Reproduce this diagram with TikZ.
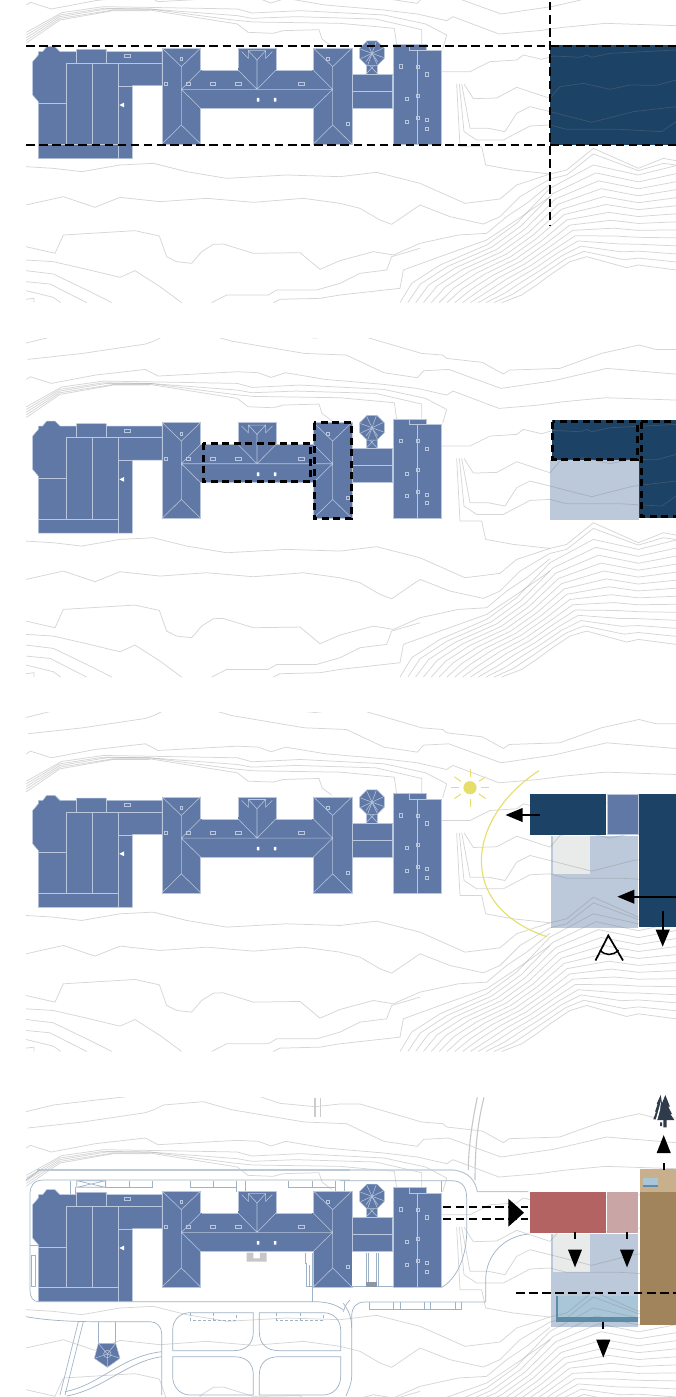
\documentclass[tikz,border=0pt]{standalone}
\usetikzlibrary{arrows.meta}
\definecolor{bblue}{HTML}{5F78A6}
\definecolor{bline}{HTML}{B9C6DC}
\definecolor{navy}{HTML}{1C4266}
\definecolor{pale}{HTML}{BCC9DA}
\definecolor{chalk}{HTML}{E9EBEB}
\definecolor{brick}{HTML}{B36362}
\definecolor{rose}{HTML}{C9A5A5}
\definecolor{earth}{HTML}{A2845C}
\definecolor{sand}{HTML}{C9B08C}
\definecolor{water}{HTML}{A9C6D8}
\definecolor{deepw}{HTML}{5B8CA8}
\definecolor{sun}{HTML}{E5DE6A}
\definecolor{road}{HTML}{9FB3C6}
\definecolor{pine}{HTML}{2F3B4A}
\tikzset{
  ct/.style={draw=black!50,opacity=.32,line width=.75pt,line join=round},
  bfill/.style={fill=bblue,draw=bline,line width=.5pt,line join=round},
  bl/.style={draw=bline,line width=.55pt},
  vent/.style={draw=bline,line width=.4pt},
  dsh/.style={line width=2.2pt,dash pattern=on 8.5pt off 4.6pt},
  dshb/.style={line width=3pt,dash pattern=on 7pt off 4.5pt},
  rd/.style={draw=road,line width=.7pt},
  rdt/.style={draw=road!70,line width=1.1pt},
  arr/.style={line width=2.2pt,-{Triangle[length=17pt,width=13.5pt]}},
  darr/.style={line width=2.2pt,dash pattern=on 7pt off 13pt,-{Triangle[length=18pt,width=13.5pt]}},
  zw/.style={xshift=20pt,x=.33333pt,y=-.33333pt},
  ze/.style={xshift=340pt,x=.33333pt,y=-.33333pt}
}
\newcommand\contours{%
\begin{scope}[zw]
\draw[ct] plot coordinates {(18,-94)(100,-114)(230,-129)(320,-139)};
\draw[ct] plot coordinates {(23,-45)(188,-63)(376,-91)(402,-100)(430,-114)(550,-124)(634,-100)(853,-63)(979,-58)(1092,-5)(1192,10)(1211,-11)(1286,-15)(1443,42)(1600,19)(1760,-18)(1968,-1)};
\draw[ct] plot coordinates {(720,-139)(780,-119)(885,-109)(960,-117)(1020,-117)(1205,-63)(1268,-58)(1280,-48)(1387,-36)(1450,-1)(1468,-13)(1619,-18)(1744,-63)(1857,-88)(1908,-75)(1968,-75)};
\draw[ct] plot coordinates {(19,15)(31,7)(94,27)(226,2)(376,-15)(414,5)(653,-8)(715,-5)(753,9)(797,-5)(916,15)(1092,30)(1192,42)(1280,62)(1299,50)(1437,102)(1556,92)(1630,82)(1757,70)(1968,77)};
\draw[ct] plot coordinates {(19,97)(125,38)(250,20)(376,22)(652,27)(696,39)(841,32)(1092,45)(1217,72)(1280,105)(1268,147)};
\draw[ct] plot coordinates {(19,105)(120,45)(250,25)(389,27)(652,47)(696,55)(828,50)(1067,57)(1205,89)(1205,133)};
\draw[ct] plot coordinates {(19,113)(120,50)(260,27)(389,27)(640,60)(700,66)(960,70)(1123,85)(1130,135)};
\draw[ct] plot coordinates {(19,121)(120,55)(280,30)(389,30)(652,72)(684,97)(759,100)(790,92)(897,89)(906,117)(935,139)};
\draw[ct] plot coordinates {(19,129)(120,60)(280,32)(389,32)};
\draw[ct] plot coordinates {(18,500)(100,505)(185,515)(300,495)(400,490)(500,515)(620,535)(800,525)(960,530)(1070,517)(1200,550)(1335,610)(1440,597)(1490,555)(1590,522)(1640,510)(1720,445)(1855,505)(1930,475)(1968,482)};
\draw[ct] plot coordinates {(18,615)(130,590)(225,622)(300,592)(420,605)(560,595)(700,607)(850,595)(960,610)(1020,625)(1080,660)(1115,673)(1200,615)(1290,650)(1390,672)(1440,650)(1500,590)(1590,537)(1640,525)(1720,462)(1855,512)(1930,490)(1968,495)};
\draw[ct] plot coordinates {(18,740)(105,760)(130,705)(345,692)(418,708)(440,770)(470,785)(515,790)(545,755)(580,733)(610,732)(700,760)(840,758)(900,808)(960,782)(1060,755)(1120,765)(1200,730)(1315,705)(1400,700)(1460,650)(1520,610)(1590,553)};
\draw[ct] plot coordinates {(18,780)(100,785)(200,808)(300,832)(345,812)(420,860)(485,908)};
\draw[ct] plot coordinates {(18,812)(100,822)(200,870)(260,900)(275,908)};
\draw[ct] plot coordinates {(18,845)(90,852)(200,908)};
\draw[ct] plot coordinates {(18,872)(100,892)(122,908)};
\draw[ct] plot coordinates {(18,898)(42,895)(42,908)};
\draw[ct] plot coordinates {(575,908)(620,885)(745,885)(770,870)(890,870)(960,850)(1020,820)(1100,810)(1115,770)(1200,745)};
\draw[ct] plot coordinates {(760,908)(780,898)(900,895)(960,885)(1140,865)(1150,810)(1260,770)(1400,720)(1490,660)(1590,590)};
\end{scope}
\begin{scope}[ze]
\draw[ct] plot coordinates {(305,215)(390,215)(450,185)(530,180)(550,165)(605,178)(640,168)(720,172)(740,165)(755,172)(810,160)(1008,150)};
\draw[ct] plot coordinates {(372,252)(400,296)(470,294)(530,262)(630,295)(660,260)(730,250)(810,268)(870,255)(950,256)(1008,240)};
\draw[ct] plot coordinates {(365,252)(390,385)(445,385)(495,395)(530,340)(570,320)(630,335)(755,367)(880,335)(1008,320)};
\draw[ct] plot coordinates {(358,252)(372,395)(410,420)(490,420)(570,378)(630,375)(680,388)(840,388)(965,395)(1008,365)};
\draw[ct] plot coordinates {(350,252)(360,440)(425,440)(437,495)(520,510)(630,522)};
\foreach \n in {0,...,13}{%
  \pgfmathsetmacro\t{\n/13}%
  \gdef\acc{}%
  \foreach \xa/\ya/\xb/\yb in {180/908/485/908,215/850/545/885,300/795/590/855,440/735/630/825,530/670/690/785,630/565/740/770,760/495/860/803,895/525/895/795,1008/497/1008/810}{%
    \pgfmathsetmacro\px{\xa+\t*(\xb-\xa)}%
    \pgfmathsetmacro\py{\ya+\t*(\yb-\ya)}%
    \xdef\acc{\acc(\px,\py)}%
  }%
  \edef\tmp{\noexpand\draw[ct] plot coordinates {\acc};}\tmp
}
\end{scope}}
\newcommand\building{%
\begin{scope}[zw]
\draw[bfill] (55,155)--(68,155)--(80,140)--(105,140)--(120,155)--(170,155)--(170,148)--(258,148)--(258,155)--(426,155)--(426,257)--(337,257)--(337,476)--(55,476)--(55,305)--(38,285)--(38,185)--(55,165)--cycle;
\draw[bl] (138,190)--(426,190) (138,190)--(138,434) (217,190)--(217,434) (295,190)--(295,476) (295,258)--(337,258) (55,434)--(295,434);
\draw[bl,line width=1pt] (55,312)--(138,312);
\draw[bl] (170,155)--(170,190) (258,148)--(258,190);
\draw[vent] (312,163) rectangle (330,172);
\fill[white] (298,315)--(312,308)--(312,322)--cycle;
\draw[bfill] (542,210) rectangle (880,325);
\draw[bfill] (654,144) rectangle (768,210);
\fill[bblue] (655,205) rectangle (767,215);
\draw[bfill] (426,144) rectangle (542,432);
\draw[bfill] (880,144) rectangle (996,432);
\fill[bblue] (538,211) rectangle (546,324);
\fill[bblue] (876,211) rectangle (884,324);
\draw[bl] (426,144)--(484,200)--(542,144) (484,200)--(484,375) (426,432)--(484,375)--(542,432) (484,268)--(938,268) (542,210)--(484,268)--(542,325);
\draw[bl] (654,210)--(711,268)--(768,210) (711,180)--(711,268);
\draw[bl] (665,155)--(685,175)--(685,152)--(711,180)--(737,152)--(737,175)--(757,155) (685,152)--(737,152);
\draw[bl] (880,144)--(938,200)--(996,144) (938,200)--(938,375) (880,432)--(938,375)--(996,432) (880,210)--(938,268)--(880,325);
\draw[vent] (432,248) rectangle (442,257) (480,172) rectangle (488,182) (500,248) rectangle (511,257) (570,248) rectangle (587,257) (646,248) rectangle (664,257) (836,248) rectangle (854,257) (920,172) rectangle (928,182) (978,366) rectangle (988,375);
\fill[white] (711,294) rectangle (718,305) (762,294) rectangle (769,305);
\end{scope}
\begin{scope}[ze]
\draw[bfill] (36,223) rectangle (158,325);
\draw[bl] (36,273)--(158,273);
\draw[bfill] (78,185) rectangle (113,222);
\draw[bl] (78,185)--(113,222) (113,185)--(78,222);
\draw[bfill] (111,123)--(133,145)--(133,175)--(111,197)--(81,197)--(59,175)--(59,145)--(81,123)--cycle;
\foreach \a in {20,65,110,155,200,245,290,335}{\draw[bl] (96,160)--({96+37*cos(\a)},{160+37*sin(\a)});}
\draw[bl] (78,185)--(96,160)--(113,185);
\draw[bfill] (160,134)--(258,134)--(258,151)--(305,151)--(305,432)--(160,432)--cycle;
\draw[bl] (208,134) rectangle (258,151) (232,151)--(232,432);
\draw[vent] (178,194) rectangle (188,204) (228,195) rectangle (237,204) (256,218) rectangle (266,228) (197,293) rectangle (206,302) (228,282) rectangle (237,291) (197,360) rectangle (206,369) (228,348) rectangle (237,357) (256,355) rectangle (266,365) (256,381) rectangle (266,390);
\end{scope}}
\newcommand\site[3]{\begin{scope}[yshift=-#1pt]\clip (26,#2) rectangle (676,#3);\contours\end{scope}}
\newcommand\bldg[1]{\begin{scope}[yshift=-#1pt]\building\end{scope}}
\begin{document}
\begin{tikzpicture}[x=1pt,y=-1pt]
\useasboundingbox (0,0) rectangle (676,1397);
\fill[white] (0,0) rectangle (676,1397);
% ---------- panel 1
\fill[navy] (550,45.5) rectangle (676,145);
\site{0}{0}{303}
\bldg{0}
\draw[dsh] (26,45.7)--(676,45.7);
\draw[dsh] (26,144.7)--(676,144.7);
\draw[dsh] (550,2)--(550,226);
% ---------- panel 2
\fill[navy] (551.5,420) rectangle (638.7,460);
\fill[navy] (638.7,420) rectangle (676,518);
\fill[pale] (550,460) rectangle (638.7,519.5);
\site{374.4}{-36}{303}
\bldg{374.4}
\draw[dshb] (203.3,443.3) rectangle (310,481.7);
\draw[dshb] (314,422.7) rectangle (351.7,518.3);
\draw[dshb] (552.5,421.5) rectangle (637,459);
\draw[dshb] (641,421.5)--(680,421.5);
\draw[dshb] (641,421.5)--(641,516.5)--(680,516.5);
% ---------- panel 3
\fill[pale] (550.7,835.7) rectangle (638.3,927.7);
\fill[chalk] (552.7,835.7) rectangle (590,874);
\site{748.8}{-36}{303}
\bldg{748.8}
\fill[navy] (530.3,794) rectangle (606,834.5);
\draw[fill=bblue,draw=bline,line width=.4pt] (607,794.3) rectangle (638.3,834.5);
\fill[navy] (639.3,794.3) rectangle (676,926.7);
\draw[sun,line width=1.1pt] (539,770.7) .. controls (470,815) and (452,904) .. (546.7,936.7);
\fill[sun] (470,787.7) circle (6.6);
\foreach \a in {0,35,90,145,180,215,270,325}{\draw[sun,line width=1pt] ({470+11*cos(\a)},{787.7+11*sin(\a)})--({470+19*cos(\a)},{787.7+19*sin(\a)});}
\coordinate (a1s) at (540,815);
\coordinate (a1e) at (505.5,815);
\coordinate (a2s) at (676,896.7);
\coordinate (a2e) at (617.3,896.7);
\coordinate (a3s) at (662.7,910.7);
\coordinate (a3e) at (662.7,946.7);
\draw[arr] (a1s)--(a1e);
\draw[arr] (a2s)--(a2e);
\draw[arr] (a3s)--(a3e);
\draw[line width=1.7pt,line join=miter] (595.5,960.5)--(608.3,935.5)--(623,960.5);
\draw[line width=1.5pt] (600,950) .. controls (605,956) and (613,956) .. (618.5,950);
% ---------- panel 4
\fill[pale] (550.7,1234) rectangle (638.3,1327.3);
\fill[chalk] (552.7,1234) rectangle (590,1272);
\fill[water] (556,1296) rectangle (638.3,1322.3);
\fill[deepw] (556,1296) rectangle (558.3,1322.3);
\fill[deepw] (556,1317.3) rectangle (638.3,1322.3);
\site{1143}{-46}{303}
\begin{scope}[zw,yshift=-1090pt]
\draw[rdt] (50,240)--(990,240);
\draw[rd] (18,270)--(60,240);
\draw[rd] (70,270)--(990,270) (70,270) .. controls (40,270) and (30,290) .. (30,310) -- (30,600) .. controls (30,620) and (38,635) .. (55,635) -- (880,635) .. controls (925,635) and (950,645) .. (970,660);
\draw[rd] (970,665) .. controls (975,645) and (985,635) .. (990,630);
\draw[rd] (170,272) rectangle (257,292) (170,272)--(257,292) (257,272)--(170,292);
\draw[rd] (257,272)--(257,293)--(398,293)--(398,272) (328,272)--(328,293);
\draw[rd] (510,272)--(510,293)--(650,293)--(650,272) (580,272)--(580,293) (650,293)--(650,305) (677,272)--(677,305);
\draw[rd] (805,272)--(805,293)--(945,293)--(945,272) (878,272)--(878,293) (945,293)--(945,305) (972,272)--(972,305);
\draw[rd] (150,272)--(150,312) (167,290)--(167,312);
\draw[rd] (30,465)--(55,465) (35,495) rectangle (47,590);
\fill[black!22] (680,488)--(700,488)--(700,505)--(720,505)--(720,488)--(740,488)--(740,515)--(680,515)--cycle;
\draw[rd] (855,490)--(855,520)--(860,520)--(860,590)--(878,590) (868,525)--(868,590) (878,490)--(878,635);
\draw[rdt,black!20] (885,25)--(885,80) (902,25)--(902,80);
\draw[rd] (18,680) .. controls (100,695) and (200,695) .. (235,695) -- (390,695) .. controls (410,695) and (425,710) .. (425,730) -- (425,915);
\draw[rd] (235,695)--(235,760) (287,695)--(287,760);
\draw[bfill] (235,760)--(287,760)--(300,805)--(262,832)--(223,805)--cycle;
\draw[bl] (262,792) circle (11) (235,760)--(262,792)--(287,760) (223,805)--(262,792)--(300,805) (262,792)--(262,832);
\draw[rd] (135,905) .. controls (240,885) and (300,800) .. (425,785);
\draw[rd] (140,918) .. controls (250,898) and (320,815) .. (425,800);
\draw[rd] (190,695)--(135,915) (175,695)--(120,915);
\draw[rd] (458,720) .. controls (458,690) and (480,668) .. (510,668) -- (700,668) -- (700,725) .. controls (700,760) and (680,782) .. (640,782) -- (458,782) -- cycle;
\draw[rd] (962,720) .. controls (962,690) and (940,668) .. (910,668) -- (718,668) -- (718,725) .. controls (718,760) and (738,782) .. (778,782) -- (962,782) -- cycle;
\draw[rd] (458,860) .. controls (458,890) and (480,915) .. (510,915) -- (700,915) -- (700,855) .. controls (700,820) and (680,800) .. (640,800) -- (458,800) -- cycle;
\draw[rd] (962,860) .. controls (962,890) and (940,915) .. (910,915) -- (718,915) -- (718,855) .. controls (718,820) and (738,800) .. (778,800) -- (962,800) -- cycle;
\draw[rd,densely dashed] (510,670)--(510,690)--(650,690)--(650,670) (580,670)--(580,690) (770,670)--(770,690)--(910,690)--(910,670) (840,670)--(840,690);
\end{scope}
\begin{scope}[ze,yshift=-1090pt]
\draw[rdt,black!22] (412,22) .. controls (395,100) and (385,180) .. (385,240);
\draw[rdt,black!22] (432,22) .. controls (412,100) and (405,180) .. (405,270);
\draw[rdt] (0,240)--(340,240) .. controls (385,245) and (405,270) .. (412,305) -- (565,305);
\draw[rd] (0,272)--(340,272) .. controls (370,275) and (380,295) .. (380,325) -- (380,430) .. controls (378,510) and (345,570) .. (305,592);
\draw[rd] (437,636) -- (75,636) .. controls (50,636) and (35,650) .. (35,680) -- (35,860) .. controls (35,880) and (25,900) .. (18,918);
\draw[rd] (10,640) .. controls (25,660) and (35,680) .. (35,715);
\draw[rd] (437,636)--(437,565) .. controls (440,495) and (490,440) .. (565,432);
\draw[rd] (88,636)--(88,658)--(365,658)--(365,636) (160,636)--(160,658) (182,636)--(182,658) (252,636)--(252,658) (272,636)--(272,658) (345,636)--(345,658);
\draw[rd] (305,272)--(305,305);
\end{scope}
\bldg{1143}
\begin{scope}[ze,yshift=-1090pt]
\fill[white] (37,486) rectangle (158,592);
\draw[rd] (35,590)--(158,590) (78,488)--(78,590) (84,488)--(84,590) (110,488)--(110,590) (115,488)--(115,590);
\fill[black!25!pale] (78,577) rectangle (110,592);
\end{scope}
\fill[brick] (530.3,1192) rectangle (606,1232.7);
\fill[rose] (607,1192) rectangle (638.3,1232.7);
\fill[sand] (639.7,1168.7) rectangle (676,1192);
\fill[earth] (639.7,1192.3) rectangle (676,1325);
\fill[water] (643.3,1177.7) rectangle (657.7,1187.3);
\fill[deepw] (643.3,1185.3) rectangle (657.7,1187.3);
\draw[dsh] (442.7,1207)--(528,1207);
\draw[dsh] (442.7,1219)--(528,1219);
\fill (508.3,1198.7)--(524,1212.7)--(508.3,1226.7)--cycle;
\draw[dsh] (516,1292.7)--(676,1292.7);
\coordinate (b1s) at (575,1231.7);
\coordinate (b1e) at (575,1267.5);
\coordinate (b2s) at (627,1231.7);
\coordinate (b2e) at (627,1267.5);
\coordinate (b3s) at (603.3,1321.7);
\coordinate (b3e) at (603.3,1357.7);
\coordinate (b4s) at (663.7,1170);
\coordinate (b4e) at (663.7,1135);
\draw[darr] (b1s)--(b1e);
\draw[darr] (b2s)--(b2e);
\draw[darr] (b3s)--(b3e);
\draw[darr] (b4s)--(b4e);
\begin{scope}[ze,yshift=-1090pt]
\fill[pine] (962,15)--(968,50)--(966,50)--(972,90)--(940,88)--(948,65)--(945,65)--(953,42)--(950,42)--cycle;
\fill[white] (964,28)--(960,60)--(952,90)--(947,90)--(957,55)--cycle;
\fill[pine] (976,15)--(990,50)--(985,50)--(996,72)--(991,72)--(1003,90)--(952,90)--(962,72)--(958,72)--(967,50)--(962,50)--cycle;
\fill[pine] (970,90) rectangle (980,112) (960,97) rectangle (966,108);
\end{scope}
\end{tikzpicture}
\end{document}
